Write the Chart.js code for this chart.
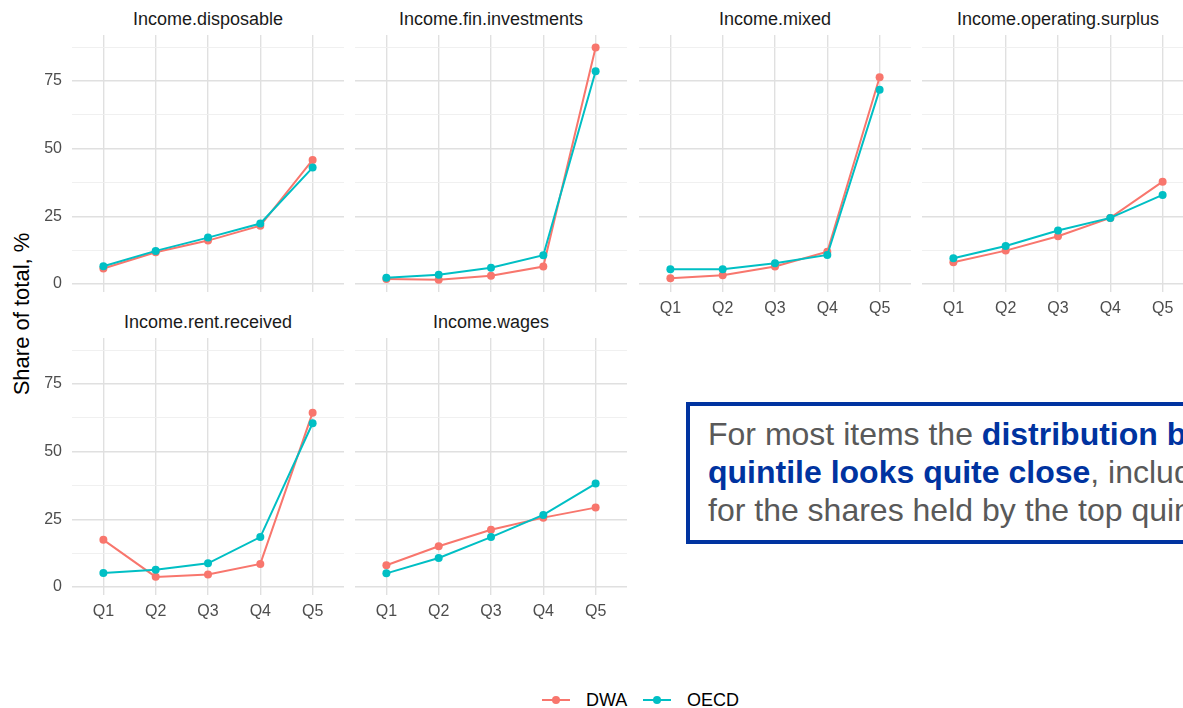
<!DOCTYPE html>
<html>
<head>
<meta charset="utf-8">
<script src="https://cdn.jsdelivr.net/npm/chart.js@4.4.1/dist/chart.umd.min.js"></script>
<style>
  body { margin: 0; width: 1183px; height: 708px; overflow: hidden; background: #fff; position: relative;
         font-family: "Liberation Sans", Arial, sans-serif; }
  canvas { position: absolute; }
  .strip { position: absolute; width: 272px; text-align: center; font-size: 18px; line-height: 20px; color: #1a1a1a; }
  .ytitle { position: absolute; left: 22px; top: 314px; transform: translate(-50%, -50%) rotate(-90deg);
            white-space: nowrap; font-size: 22px; color: #000; }
  .key { position: absolute; height: 2px; width: 28px; top: 699px; }
  .key i { position: absolute; left: 10px; top: -3px; width: 8px; height: 8px; border-radius: 50%; }
  .keytxt { position: absolute; top: 690px; font-size: 18px; line-height: 20px; color: #000; }
  .note { position: absolute; left: 686px; top: 402px; width: 760px; height: 142px; box-sizing: border-box;
          border: 4px solid #0033a0; background: #fff; padding: 9px 0 0 18px; white-space: nowrap;
          font-size: 32px; line-height: 38px; color: #595959; }
  .note b { color: #0033a0; }
</style>
</head>
<body>
<div class="ytitle">Share of total, %</div>

<div class="key" style="left:542px;background:#F8766D"><i style="background:#F8766D"></i></div>
<div class="keytxt" style="left:586px">DWA</div>
<div class="key" style="left:643px;background:#00BFC4"><i style="background:#00BFC4"></i></div>
<div class="keytxt" style="left:687px">OECD</div>

<script>
// data
const quintiles = ["Q1", "Q2", "Q3", "Q4", "Q5"];
const yGrid = [0, 12.5, 25, 37.5, 50, 62.5, 75, 87.5];
const yLabels = [0, 25, 50, 75];

const dwaDisposable  = [5.7, 11.7, 16.0, 21.5, 45.8];
const oecdDisposable = [6.5, 12.2, 17.1, 22.3, 43.0];

const dwaFinInv  = [1.8, 1.5, 3.0, 6.4, 87.4];
const oecdFinInv = [2.3, 3.4, 6.0, 10.6, 78.6];

const dwaMixed  = [2.1, 3.2, 6.4, 11.9, 76.4];
const oecdMixed = [5.4, 5.4, 7.6, 10.7, 71.8];

const dwaOpSurplus  = [8.0, 12.3, 17.6, 24.4, 37.8];
const oecdOpSurplus = [9.5, 14.0, 19.7, 24.4, 32.9];

const dwaRent  = [17.4, 3.7, 4.6, 8.5, 64.4];
const oecdRent = [5.1, 6.3, 8.7, 18.4, 60.5];

const dwaWages  = [8.0, 15.0, 21.1, 25.6, 29.3];
const oecdWages = [5.0, 10.7, 18.4, 26.6, 38.2];

const DWA_COL = "#F8766D";
const OECD_COL = "#00BFC4";
const MAJOR = "#e0e0e0";
const MINOR = "#eeeeee";
const PANEL_W = 272, PANEL_H = 257;

const panels = [
  { title: "Income.disposable",         dwa: dwaDisposable, oecd: oecdDisposable, left: 72,  top: 35,  showY: true,  showX: false },
  { title: "Income.fin.investments",    dwa: dwaFinInv,     oecd: oecdFinInv,     left: 355, top: 35,  showY: false, showX: false },
  { title: "Income.mixed",              dwa: dwaMixed,      oecd: oecdMixed,      left: 639, top: 35,  showY: false, showX: true },
  { title: "Income.operating.surplus",  dwa: dwaOpSurplus,  oecd: oecdOpSurplus,  left: 922, top: 35,  showY: false, showX: true },
  { title: "Income.rent.received",      dwa: dwaRent,       oecd: oecdRent,       left: 72,  top: 338, showY: true,  showX: true },
  { title: "Income.wages",              dwa: dwaWages,      oecd: oecdWages,      left: 355, top: 338, showY: false, showX: true }
];

const tickFont = { family: "'Liberation Sans', Arial, sans-serif", size: 16 };

function makePanel(p) {
  const yw = p.showY ? 72 : 0;
  const xh = p.showX ? 34 : 0;
  const w = PANEL_W + yw, h = PANEL_H + xh;

  const strip = document.createElement("div");
  strip.className = "strip";
  strip.style.left = p.left + "px";
  strip.style.top = (p.top - 26) + "px";
  strip.textContent = p.title;
  document.body.appendChild(strip);

  const cv = document.createElement("canvas");
  cv.width = w; cv.height = h;
  cv.style.left = (p.left - yw) + "px";
  cv.style.top = p.top + "px";
  cv.style.width = w + "px"; cv.style.height = h + "px";
  document.body.appendChild(cv);

  new Chart(cv, {
    type: "line",
    data: {
      datasets: [
        { label: "DWA", data: p.dwa.map((v, i) => ({ x: i, y: v })),
          borderColor: DWA_COL, backgroundColor: DWA_COL, order: 2 },
        { label: "OECD", data: p.oecd.map((v, i) => ({ x: i, y: v })),
          borderColor: OECD_COL, backgroundColor: OECD_COL, order: 1 }
      ]
    },
    options: {
      responsive: false, animation: false, devicePixelRatio: 1,
      layout: { padding: 0, autoPadding: false },
      plugins: { legend: { display: false }, tooltip: { enabled: false } },
      elements: {
        line: { borderWidth: 2, tension: 0 },
        point: { radius: 4, borderWidth: 0 }
      },
      scales: {
        x: {
          type: "linear", min: -0.6, max: 4.6,
          afterBuildTicks: a => { a.ticks = quintiles.map((q, i) => ({ value: i })); },
          afterFit: a => { a.height = xh; a.paddingLeft = 0; a.paddingRight = 0; },
          grid: { color: MAJOR, lineWidth: 1.4, drawTicks: false },
          border: { display: false },
          ticks: { display: p.showX, padding: 7, color: "#4d4d4d", font: tickFont,
                   autoSkip: false, maxRotation: 0, callback: v => quintiles[v] }
        },
        y: {
          min: -3, max: 92,
          afterBuildTicks: a => { a.ticks = yGrid.map(v => ({ value: v })); },
          afterFit: a => { a.width = yw; a.paddingTop = 0; a.paddingBottom = 0; },
          grid: {
            color: c => (c.tick && yLabels.includes(c.tick.value)) ? MAJOR : MINOR,
            lineWidth: c => (c.tick && yLabels.includes(c.tick.value)) ? 1.4 : 0.9,
            drawTicks: false
          },
          border: { display: false },
          ticks: { display: p.showY, padding: 10, color: "#4d4d4d", font: tickFont,
                   autoSkip: false, callback: v => yLabels.includes(v) ? String(v) : "" }
        }
      }
    }
  });
}

panels.forEach(makePanel);
</script>

<div class="note">For most items the <b>distribution by</b><br><b>quintile looks quite close</b>, including<br>for the shares held by the top quintile</div>
</body>
</html>
